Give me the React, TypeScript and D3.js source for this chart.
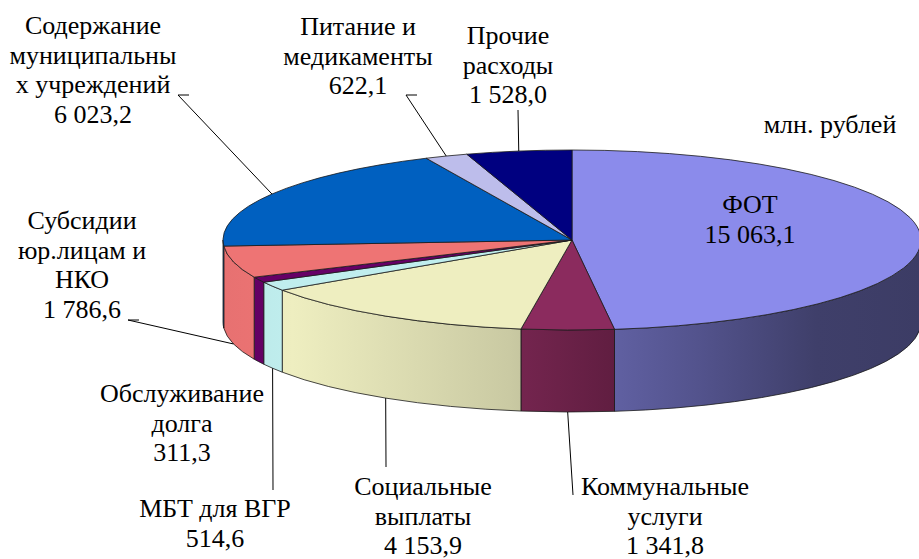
import React from 'react';
import * as d3 from 'd3';

// expense categories, clockwise from 12 o'clock
const categories = [
  'ФОТ',
  'Коммунальные услуги',
  'Социальные выплаты',
  'МБТ для ВГР',
  'Обслуживание долга',
  'Субсидии юр.лицам и НКО',
  'Содержание муниципальных учреждений',
  'Питание и медикаменты',
  'Прочие расходы',
];
const values = [15063.1, 1341.8, 4153.9, 514.6, 311.3, 1786.6, 6023.2, 622.1, 1528.0];
// how each label name is broken into lines
const labelLines = [
  ['ФОТ'],
  ['Коммунальные', 'услуги'],
  ['Социальные', 'выплаты'],
  ['МБТ для ВГР'],
  ['Обслуживание', 'долга'],
  ['Субсидии', 'юр.лицам и', 'НКО'],
  ['Содержание', 'муниципальны', 'х учреждений'],
  ['Питание и', 'медикаменты'],
  ['Прочие', 'расходы'],
];
const colors = ['#8B8BEB', '#8B2B5E', '#EEEEC0', '#C0EEEE', '#660066', '#EE7474', '#0060C0', '#BDBDEB', '#000080'];
const unitLabel = 'млн. рублей';

// label placement: text centre x, first baseline y, optional leader elbow
const labelLayout = [
  { x: 750, y: 213, leader: null },
  { x: 665, y: 495, leader: [[573, 495]] },
  { x: 423, y: 495, leader: [[386, 467]] },
  { x: 215, y: 517, leader: [[273, 490]] },
  { x: 182, y: 402, leader: null },
  { x: 82, y: 229, leader: [[128, 320], [139, 320]] },
  { x: 93, y: 34, leader: [[178, 95], [189, 95]] },
  { x: 358, y: 35, leader: [[406, 95], [417, 95]] },
  { x: 508, y: 44, leader: [[518, 110]] },
];

const W = 919;
const H = 559;
const cx = 572;
const cy = 240;
const rx = 349;
const ry = 90;
const depth = 82;
const lineH = 29.5;
const font = "'Liberation Serif', 'Times New Roman', Tinos, FreeSerif, 'Nimbus Roman', serif";

// side shading across the pie (offset, brightness)
const shade: [number, number][] = [
  [0, 0.97], [0.1, 1.0], [0.41, 0.85], [0.48, 0.78], [0.57, 0.68], [0.68, 0.6], [0.85, 0.45], [1, 0.43],
];

const fmt = d3.formatLocale({ decimal: ',', thousands: ' ', grouping: [3], currency: ['', ''] }).format(',.1f');

const pt = (a: number, dy = 0): [number, number] => [cx + rx * Math.sin(a), cy - ry * Math.cos(a) + dy];

const arcTo = (a0: number, a1: number, dy = 0, sweep = 1) => {
  const [x, y] = pt(sweep ? a1 : a0, dy);
  const large = Math.abs(a1 - a0) > Math.PI ? 1 : 0;
  return `A${rx},${ry} 0 ${large} ${sweep} ${x},${y}`;
};

export default function App() {
  const arcs = d3.pie<number>().sort(null).value(d => d).startAngle(0).endAngle(2 * Math.PI)(values);

  const sides = arcs.map((a, i) => {
    const s0 = Math.max(a.startAngle, Math.PI / 2);
    const s1 = Math.min(a.endAngle, (3 * Math.PI) / 2);
    if (s1 <= s0) return null;
    const p0 = pt(s0);
    const p1b = pt(s1, depth);
    const d = `M${p0[0]},${p0[1]} ${arcTo(s0, s1)} L${p1b[0]},${p1b[1]} ${arcTo(s0, s1, depth, 0)} Z`;
    return { d, i };
  }).filter(Boolean) as { d: string; i: number }[];

  const tops = arcs.map((a, i) => {
    const p0 = pt(a.startAngle);
    const d = `M${cx},${cy} L${p0[0]},${p0[1]} ${arcTo(a.startAngle, a.endAngle)} Z`;
    return { d, i };
  });

  const labels = arcs.map((a, i) => {
    const mid = (a.startAngle + a.endAngle) / 2;
    const front = Math.cos(mid) < 0;
    const anchor = pt(mid, front ? depth : 0);
    const lay = labelLayout[i];
    const lines = [...labelLines[i], fmt(values[i])];
    const leader = lay.leader ? [...lay.leader.slice().reverse(), anchor] : null;
    return { lines, lay, leader, i };
  });

  const textLines = labels.flatMap(l =>
    l.lines.map((s, k) => ({ key: `${l.i}-${k}`, s, x: l.lay.x, y: l.lay.y + k * lineH }))
  );
  textLines.push({ key: 'unit', s: unitLabel, x: 830, y: 133 });

  return (
    <svg lang="ru" width={W} height={H} style={{ position: 'absolute', left: 0, top: 0, background: '#fff' }}>
      <defs>
        {colors.map((c, i) => (
          <linearGradient key={i} id={`side${i}`} gradientUnits="userSpaceOnUse" x1={cx - rx} x2={cx + rx} y1={0} y2={0}>
            {shade.map(([o, f], k) => {
              const b = d3.rgb(c);
              return <stop key={k} offset={o} stopColor={d3.rgb(b.r * f, b.g * f, b.b * f).formatHex()} />;
            })}
          </linearGradient>
        ))}
      </defs>

      {sides.map(s => (
        <path key={`s${s.i}`} d={s.d} fill={`url(#side${s.i})`} stroke="#1a1a1a" strokeWidth={0.8} strokeLinejoin="round" />
      ))}
      {tops.map(t => (
        <path key={`t${t.i}`} d={t.d} fill={colors[t.i]} stroke="#1a1a1a" strokeWidth={0.8} strokeLinejoin="round" />
      ))}

      {labels.map(l => l.leader && (
        <polyline key={`l${l.i}`} points={l.leader.map(p => p.join(',')).join(' ')} fill="none" stroke="#000" strokeWidth={1} />
      ))}

      {textLines.map(t => (
        <text key={t.key} x={t.x} y={t.y} style={{ fontFamily: font, fontSize: 26 }} textAnchor="middle">{t.s}</text>
      ))}
    </svg>
  );
}
